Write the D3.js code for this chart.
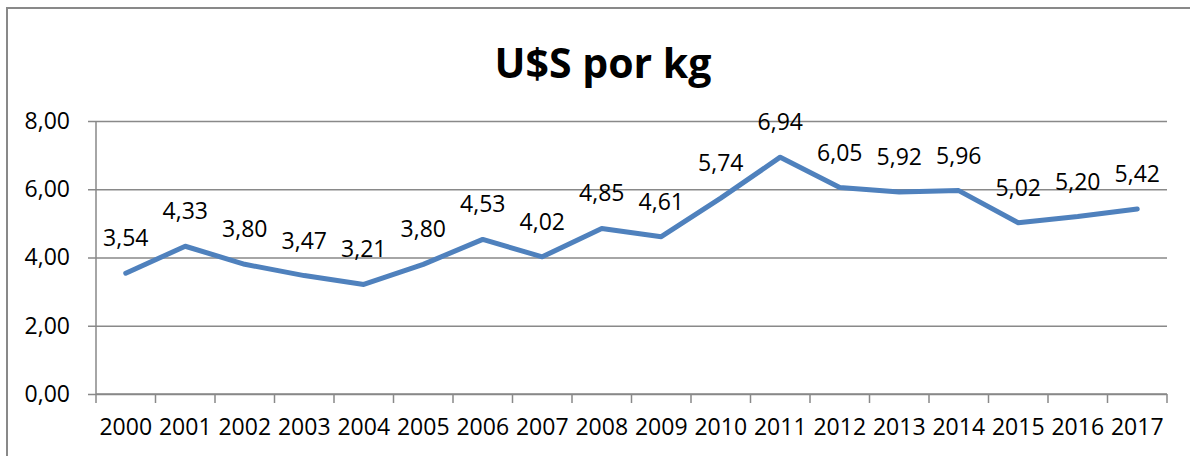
<!DOCTYPE html>
<html>
<head>
<meta charset="utf-8">
<style>
    body { margin: 0; background: #fff; }
    text { font-family: "Open Sans", "Noto Sans", sans-serif; fill: #000; }
</style>
</head>
<body>
<svg width="1190" height="456"></svg>

<script src="https://d3js.org/d3.v7.min.js"></script>

<script>
    var years = ["2000", "2001", "2002", "2003", "2004", "2005", "2006", "2007", "2008",
                 "2009", "2010", "2011", "2012", "2013", "2014", "2015", "2016", "2017"];
    var prices = [3.54, 4.33, 3.80, 3.47, 3.21, 3.80, 4.53, 4.02, 4.85,
                  4.61, 5.74, 6.94, 6.05, 5.92, 5.96, 5.02, 5.20, 5.42];
    var yTicks = [0, 2, 4, 6, 8];
    var title = "U$S por kg";
</script>

<script>
    function makeLineChart() {

        var svg = d3.select("svg");
        var fmt = function(v) { return d3.format(".2f")(v).replace(".", ","); };

        var margin = { top: 121, left: 96, right: 23, bottom: 62 };
        var width = +svg.attr("width") - margin.left - margin.right,
            height = +svg.attr("height") - margin.top - margin.bottom;

        // chart frame
        svg.append("rect")
            .attr("x", 7).attr("y", 8)
            .attr("width", 1200).attr("height", 470)
            .attr("fill", "none")
            .attr("stroke", "#898989")
            .attr("stroke-width", 2);

        svg.append("text")
            .attr("x", 603).attr("y", 78)
            .attr("text-anchor", "middle")
            .style("font-size", "41px")
            .style("font-weight", "bold")
            .text(title);

        var g = svg.append("g").attr("transform", "translate(" + margin.left + "," + margin.top + ")");

        var x = d3.scaleBand().domain(years).range([0, width]);
        var y = d3.scaleLinear().domain([0, 8]).range([height, 0]);

        // gridlines + y labels
        g.append("g")
            .attr("class", "axis axis--y")
            .call(d3.axisLeft(y).tickValues(yTicks).tickSize(-width - 8).tickFormat(fmt).tickPadding(18))
            .call(function(a) {
                a.select(".domain").remove();
                a.selectAll(".tick line")
                    .attr("x1", -8)
                    .attr("x2", width)
                    .attr("stroke", "#898989")
                    .attr("stroke-width", 1.5);
                a.selectAll(".tick text").attr("x", -26).style("font-size", "23px");
            });

        g.append("line")
            .attr("x1", 0).attr("x2", 0)
            .attr("y1", 0).attr("y2", height)
            .attr("stroke", "#898989")
            .attr("stroke-width", 1.5);

        // x axis
        var xa = g.append("g")
            .attr("class", "axis axis--x")
            .attr("transform", "translate(0," + height + ")");
        xa.append("line")
            .attr("x1", 0).attr("x2", width)
            .attr("stroke", "#898989").attr("stroke-width", 1.5);
        xa.selectAll(".tk")
            .data(d3.range(years.length + 1))
            .enter().append("line")
            .attr("x1", function(i) { return i * x.step(); })
            .attr("x2", function(i) { return i * x.step(); })
            .attr("y1", 0).attr("y2", 9)
            .attr("stroke", "#898989").attr("stroke-width", 1.5);
        xa.selectAll(".lbl")
            .data(years)
            .enter().append("text")
            .attr("x", function(d) { return x(d) + x.bandwidth() / 2; })
            .attr("y", 41)
            .attr("text-anchor", "middle")
            .style("font-size", "23px")
            .text(function(d) { return d; });

        var pts = years.map(function(d, i) { return { year: d, v: prices[i] }; });

        var line = d3.line()
            .x(function(d) { return x(d.year) + x.bandwidth() / 2; })
            .y(function(d) { return y(d.v); });

        g.append("path")
            .datum(pts)
            .attr("d", line)
            .attr("fill", "none")
            .attr("stroke", "#4F81BD")
            .attr("stroke-width", 5)
            .attr("stroke-linejoin", "round")
            .attr("stroke-linecap", "round");

        g.selectAll(".val")
            .data(pts)
            .enter().append("text")
            .attr("x", function(d) { return x(d.year) + x.bandwidth() / 2; })
            .attr("y", function(d) { return y(d.v) - 27; })
            .attr("text-anchor", "middle")
            .style("font-size", "23px")
            .text(function(d) { return fmt(d.v); });
    }

    makeLineChart();
</script>
</body>
</html>
